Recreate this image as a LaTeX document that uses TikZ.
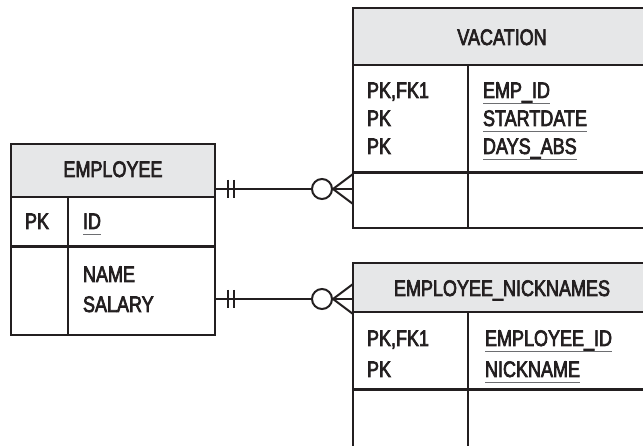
\documentclass[tikz,border=0pt]{standalone}
\usepackage{fontspec}
\setmainfont{Liberation Sans}[FakeStretch=0.8, FakeBold=3]
\usetikzlibrary{calc}
\definecolor{ink}{HTML}{231F20}
\definecolor{hdr}{HTML}{E6E7E8}
\definecolor{ulc}{HTML}{6D6E71}
\newcommand{\myul}[1]{\setbox0\hbox{#1}\rlap{\color{ulc}\rule[-6.5pt]{\wd0}{1.8pt}}\box0}
\tikzset{
  frame/.style={draw=ink, line width=2pt},
  heavy/.style={draw=ink, line width=3pt},
  tbl/.style={draw=ink, line width=2pt, anchor=north west, inner sep=0pt, outer sep=0pt},
  hdrbox/.style={fill=hdr, anchor=north west, inner sep=0pt, outer sep=0pt},
  txt/.style={inner sep=0pt, outer sep=0pt, text=ink, font=\fontsize{22.5}{26}\selectfont},
  conn/.style={draw=ink, line width=2pt},
}
\begin{document}
\begin{tikzpicture}[x=1pt, y=-1pt]
\useasboundingbox (0,0) rectangle (643,446);
\clip (0,0) rectangle (643,446);
\fill[white] (0,0) rectangle (643,446);

% EMPLOYEE
\node[hdrbox, minimum width=204pt, minimum height=53pt] (emph) at (11,144) {};
\node[tbl, minimum width=204pt, minimum height=191pt] (emp) at (11,144) {};
\draw[frame] (11,197) -- (215,197);
\draw[heavy] (11,247) -- (215,247);
\draw[frame] (68,197) -- (68,335);
\node[txt, anchor=base] (empt) at (113,177) {EMPLOYEE};
\node[txt, anchor=base west] (emppk) at (25,229) {PK};
\node[txt, anchor=base west] (empid) at (83,229) {\myul{ID}};
\node[txt, anchor=base west] (empname) at (83,282) {NAME};
\node[txt, anchor=base west] (empsal) at (83,312) {SALARY};

% VACATION
\node[hdrbox, minimum width=320pt, minimum height=57pt] (vach) at (353,8) {};
\node[tbl, minimum width=320pt, minimum height=220pt] (vac) at (353,8) {};
\draw[frame] (353,65) -- (673,65);
\draw[heavy] (353,173) -- (673,173);
\draw[frame] (468,65) -- (468,228);
\node[txt, anchor=base] (vact) at (502,45) {VACATION};
\node[txt, anchor=base west] (vk1) at (367,98) {PK,FK1};
\node[txt, anchor=base west] (vk2) at (367,126) {PK};
\node[txt, anchor=base west] (vk3) at (367,154) {PK};
\node[txt, anchor=base west] (vf1) at (483,98) {\myul{EMP\_ID}};
\node[txt, anchor=base west] (vf2) at (483,126) {\myul{STARTDATE}};
\node[txt, anchor=base west] (vf3) at (483,154) {\myul{DAYS\_ABS}};

% EMPLOYEE_NICKNAMES
\node[hdrbox, minimum width=320pt, minimum height=49pt] (nickh) at (353,263) {};
\node[tbl, minimum width=320pt, minimum height=220pt] (nick) at (353,263) {};
\draw[frame] (353,312) -- (673,312);
\draw[heavy] (353,390) -- (673,390);
\draw[frame] (468,312) -- (468,483);
\node[txt, anchor=base] (nickt) at (502,296) {EMPLOYEE\_NICKNAMES};
\node[txt, anchor=base west] (nk1) at (367,346) {PK,FK1};
\node[txt, anchor=base west] (nk2) at (367,377) {PK};
\node[txt, anchor=base west] (nf1) at (485,346) {\myul{EMPLOYEE\_ID}};
\node[txt, anchor=base west] (nf2) at (485,377) {\myul{NICKNAME}};

% relationships
\foreach \n/\y in {1/189, 2/299} {
  \coordinate (s\n) at (emp.east |- 0,\y);
  \coordinate (t\n) at (vac.west |- 0,\y);
  \coordinate (o\n) at ($(t\n)+(-31,0)$);
  \coordinate (p\n) at ($(t\n)+(-20,0)$);
  \draw[conn] (s\n) -- (t\n);
  \draw[conn] ($(s\n)+(13,-9)$) -- ($(s\n)+(13,9)$);
  \draw[conn] ($(s\n)+(19,-9)$) -- ($(s\n)+(19,9)$);
  \draw[conn, fill=white] (o\n) circle (10pt);
  \draw[conn] ($(t\n)+(0,-15)$) -- (p\n) -- ($(t\n)+(0,15)$);
}
\end{tikzpicture}
\end{document}
